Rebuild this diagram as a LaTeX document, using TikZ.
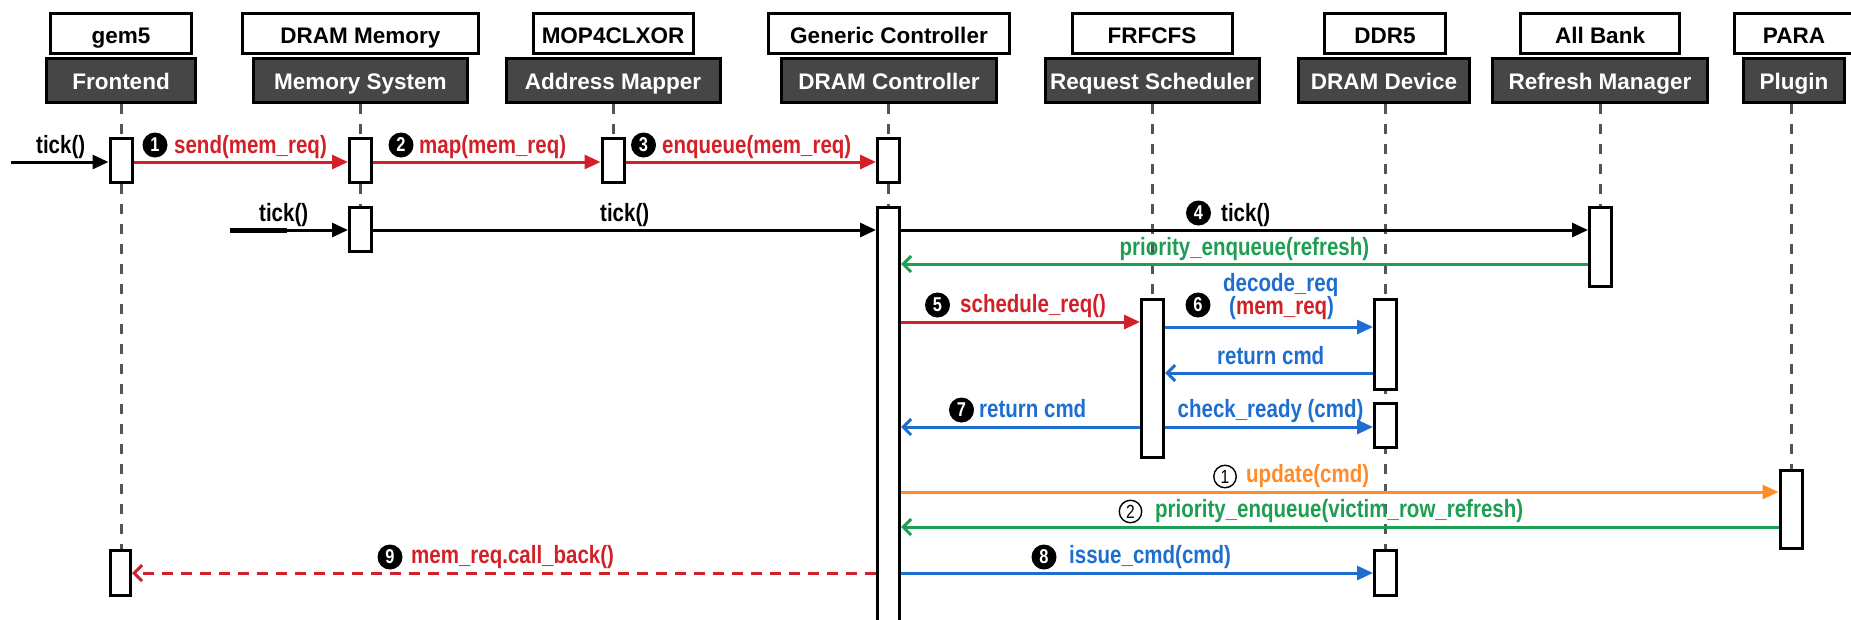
\documentclass[tikz,border=0pt]{standalone}
\usepackage{fontspec}
\setmainfont{Liberation Sans}
\newfontfamily\narrowfont{Liberation Sans}[FakeStretch=0.82]
\usetikzlibrary{arrows.meta,shapes.geometric}

\definecolor{cred}{RGB}{210,32,40}
\definecolor{cblue}{RGB}{30,110,210}
\definecolor{cgreen}{RGB}{30,158,80}
\definecolor{corange}{RGB}{255,140,40}
\definecolor{cdark}{RGB}{70,70,70}
\definecolor{clife}{RGB}{85,85,85}

\tikzset{
  toph/.style={draw=black, line width=3pt, fill=white, minimum height=40pt,
    inner sep=0pt, text height=19pt, text depth=0pt,
    font=\fontsize{22.5}{26}\selectfont\bfseries},
  both/.style={draw=black, line width=3pt, fill=cdark, text=white, minimum height=44pt,
    inner sep=0pt, text height=17pt, text depth=0pt,
    font=\fontsize{22.5}{26}\selectfont\bfseries},
  act/.style={draw=black, line width=3pt, fill=white, minimum width=22pt, inner sep=0pt},
  life/.style={draw=clife, line width=3pt, dash pattern=on 10pt off 10pt},
  msg/.style={line width=3pt, -{Triangle[length=16pt,width=14pt]}},
  ret/.style={line width=3pt, -{Straight Barb[length=8pt,width=16pt]}},
  lbl/.style={font=\narrowfont\fontsize{25}{28}\selectfont\bfseries, inner sep=0pt, anchor=base west},
  num/.style={circle, fill=black, text=white, minimum size=25pt, inner sep=0pt,
    font=\narrowfont\fontsize{20}{22}\selectfont\bfseries},
  onum/.style={circle, draw=black, line width=1.4pt, fill=white, text=black, minimum size=22.5pt,
    inner sep=0pt, font=\narrowfont\fontsize{19}{20}\selectfont}
}

\begin{document}
\begin{tikzpicture}[x=1pt,y=-1pt]
\useasboundingbox (0,0) rectangle (1851,619);

% ---- component headers ----
\node[toph, minimum width=141pt] (tfe) at (121,33.5) {gem5};
\node[both, minimum width=149pt] (bfe) at (121,80.5) {Frontend};
\node[toph, minimum width=236pt] (tms) at (360.5,33.5) {DRAM Memory};
\node[both, minimum width=214pt] (bms) at (360.5,80.5) {Memory System};
\node[toph, minimum width=160pt] (tam) at (613,33.5) {MOP4CLXOR};
\node[both, minimum width=214pt] (bam) at (613,80.5) {Address Mapper};
\node[toph, minimum width=241pt] (tdc) at (889,33.5) {Generic Controller};
\node[both, minimum width=215pt] (bdc) at (889,80.5) {DRAM Controller};
\node[toph, minimum width=160pt] (trs) at (1152,33.5) {FRFCFS};
\node[both, minimum width=214pt] (brs) at (1152,80.5) {Request Scheduler};
\node[toph, minimum width=121pt] (tdd) at (1385,33.5) {DDR5};
\node[both, minimum width=171pt] (bdd) at (1384,80.5) {DRAM Device};
\node[toph, minimum width=159pt] (trm) at (1600,33.5) {All Bank};
\node[both, minimum width=215pt] (brm) at (1600,80.5) {Refresh Manager};
\node[toph, minimum width=119pt] (tpl) at (1794,33.5) {PARA};
\node[both, minimum width=101pt] (bpl) at (1794,80.5) {Plugin};

% ---- lifeline positions ----
\coordinate (lfe) at (121,0);
\coordinate (lms) at (360.5,0);
\coordinate (lam) at (613,0);
\coordinate (ldc) at (888.5,0);
\coordinate (lrs) at (1152.5,0);
\coordinate (ldd) at (1385.5,0);
\coordinate (lrm) at (1600.5,0);
\coordinate (lpl) at (1791,0);

% ---- lifelines ----
\draw[life] (lfe |- bfe.south) -- (121,549);
\draw[life] (lms |- bms.south) -- (360.5,206);
\draw[life] (lam |- bam.south) -- (613,137);
\draw[life] (ldc |- bdc.south) -- (888.5,206);
\draw[life] (lrs |- brs.south) -- (1152.5,298);
\draw[life] (ldd |- bdd.south) -- (1385.5,549);
\draw[life] (lrm |- brm.south) -- (1600.5,206);
\draw[life] (lpl |- bpl.south) -- (1791,469);

% ---- activation bars ----
\node[act, minimum height=44pt] (fe1) at (121,160.5) {};
\node[act, minimum height=44pt] (ms1) at (360.5,160.5) {};
\node[act, minimum height=44pt] (am1) at (613,160.5) {};
\node[act, minimum height=44pt] (dc1) at (888.5,160.5) {};
\node[act, minimum height=44pt] (ms2) at (360.5,229.5) {};
\node[act, minimum height=420pt] (dc2) at (888.5,417.5) {};
\node[act, minimum height=79pt] (rm1) at (1600.5,247) {};
\node[act, minimum height=158pt] (rs1) at (1152.5,378.5) {};
\node[act, minimum height=90pt] (dd1) at (1385.5,344.5) {};
\node[act, minimum height=44pt] (dd2) at (1385.5,425.5) {};
\node[act, minimum height=45pt] (dd3) at (1385.5,573) {};
\node[act, minimum height=78pt] (pl1) at (1791,509.5) {};
\node[act, minimum width=20pt, minimum height=45pt] (fe2) at (120.5,573) {};

% ---- message rows ----
\coordinate (y1) at (0,162);
\coordinate (y2) at (0,230);
\coordinate (y3) at (0,264);
\coordinate (y4) at (0,322);
\coordinate (y5) at (0,327);
\coordinate (y6) at (0,373);
\coordinate (y7) at (0,427);
\coordinate (y8) at (0,492);
\coordinate (y9) at (0,527);
\coordinate (y10) at (0,573);
\coordinate (in1) at (11,162);
\coordinate (in2) at (230,230);
\coordinate (in2b) at (287,230);

\draw[msg] (in1) -- (fe1.west |- y1);
\draw[msg,cred] (fe1.east |- y1) -- (ms1.west |- y1);
\draw[msg,cred] (ms1.east |- y1) -- (am1.west |- y1);
\draw[msg,cred] (am1.east |- y1) -- (dc1.west |- y1);

\draw[line width=5pt] (in2) -- (in2b);
\draw[msg] (in2) -- (ms2.west |- y2);
\draw[msg] (ms2.east |- y2) -- (dc2.west |- y2);
\draw[msg] (dc2.east |- y2) -- (rm1.west |- y2);
\draw[ret,cgreen] (rm1.west |- y3) -- (dc2.east |- y3);

\draw[msg,cred] (dc2.east |- y4) -- (rs1.west |- y4);
\draw[msg,cblue] (rs1.east |- y5) -- (dd1.west |- y5);
\draw[ret,cblue] (dd1.west |- y6) -- (rs1.east |- y6);
\draw[ret,cblue] (rs1.west |- y7) -- (dc2.east |- y7);
\draw[msg,cblue] (rs1.east |- y7) -- (dd2.west |- y7);

\draw[msg,corange] (dc2.east |- y8) -- (pl1.west |- y8);
\draw[ret,cgreen] (pl1.west |- y9) -- (dc2.east |- y9);
\draw[msg,cblue] (dc2.east |- y10) -- (dd3.west |- y10);
\draw[ret,cred,dash pattern=on 11pt off 8pt] (dc2.west |- y10) -- (fe2.east |- y10);

% ---- labels ----
\node[lbl] (l-tick1) at (36,153) {tick()};
\node[num] (n1) at (155,145) {1};
\node[lbl,cred] (l-send) at (174,153) {send(mem\_req)};
\node[num] (n2) at (401,145) {2};
\node[lbl,cred] (l-map) at (419,153) {map(mem\_req)};
\node[num] (n3) at (643.5,145) {3};
\node[lbl,cred] (l-enq) at (662,153) {enqueue(mem\_req)};

\node[lbl] (l-tick2) at (259,221) {tick()};
\node[lbl] (l-tick3) at (600,221) {tick()};
\node[num] (n4) at (1198.5,213) {4};
\node[lbl] (l-tick4) at (1221,221) {tick()};
\node[lbl,cgreen] (l-prq) at (1119.5,255) {priority\_enqueue(refresh)};

\node[num] (n5) at (937.5,305) {5};
\node[lbl,cred] (l-sched) at (960,312) {schedule\_req()};
\node[num] (n6) at (1198,305) {6};
\node[lbl,cblue] (l-dec) at (1223,291) {decode\_req};
\node[lbl,cblue] (l-decarg) at (1229,314) {(\textcolor{cred}{mem\_req})};
\node[lbl,cblue] (l-ret1) at (1217,364) {return cmd};
\node[num] (n7) at (961.5,410) {7};
\node[lbl,cblue] (l-ret2) at (979,417) {return cmd};
\node[lbl,cblue] (l-chk) at (1177.5,417) {check\_ready (cmd)};

\node[onum] (o1) at (1225,476.5) {1};
\node[lbl,corange] (l-upd) at (1246,482) {update(cmd)};
\node[onum] (o2) at (1130.5,511.5) {2};
\node[lbl,cgreen] (l-vict) at (1155,517) {priority\_enqueue(victim\_row\_refresh)};
\node[num] (n8) at (1044,557) {8};
\node[lbl,cblue] (l-issue) at (1069,563) {issue\_cmd(cmd)};
\node[num] (n9) at (390,557) {9};
\node[lbl,cred] (l-cb) at (411,563) {mem\_req.call\_back()};
\end{tikzpicture}
\end{document}
